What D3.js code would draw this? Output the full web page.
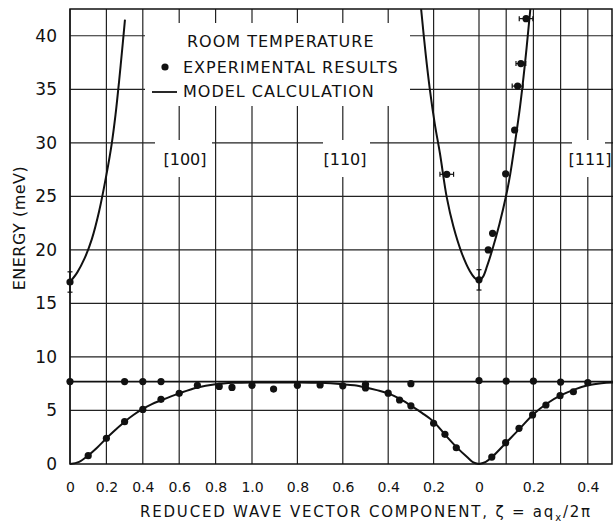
<!DOCTYPE html>
<html>
<head>
<meta charset="utf-8">
<script src="https://cdn.jsdelivr.net/npm/d3@7"></script>
<style>
  body { margin: 0; background: #fff; }
  text { font-family: "DejaVu Sans", sans-serif; fill: #111; }
</style>
</head>
<body>
<svg id="chart" width="613" height="525"></svg>
<script>
// Tick positions on each branch (ζ values)
const ticks100 = [0, 0.2, 0.4, 0.6, 0.8, 1.0];
const ticks110 = [0.8, 0.6, 0.4, 0.2, 0];
const ticks111 = [0.2, 0.4];
const grid111 = [0.1, 0.2, 0.3, 0.4];
const yTicks = [0, 5, 10, 15, 20, 25, 30, 35, 40];

// Model calculation, [ζ, meV]
const acoustic100 = [[0,0],[0.05,0.2],[0.1,0.8],[0.15,1.55],[0.2,2.4],[0.25,3.2],[0.3,3.95],[0.35,4.6],[0.4,5.15],[0.45,5.6],[0.5,5.95],[0.6,6.6],[0.7,7.15],[0.8,7.45],[0.9,7.58],[1.0,7.62]];
const acoustic110 = [[1,7.62],[0.9,7.62],[0.8,7.62],[0.7,7.58],[0.6,7.45],[0.55,7.35],[0.5,7.15],[0.45,6.9],[0.4,6.6],[0.35,6.1],[0.3,5.45],[0.25,4.75],[0.2,3.95],[0.15,2.75],[0.1,1.6],[0.05,0.6],[0.025,0.15],[0,0]];
const acoustic111 = [[0,0],[0.025,0.2],[0.05,0.7],[0.1,2.0],[0.15,3.3],[0.2,4.65],[0.25,5.65],[0.3,6.4],[0.35,6.95],[0.4,7.35],[0.45,7.55],[0.5,7.62]];
const optic100 = [[0,17.0],[0.04,17.9],[0.08,19.2],[0.12,21.0],[0.16,23.6],[0.2,27.0],[0.23,30.0],[0.25,32.6],[0.27,35.8],[0.29,39.3],[0.302,41.5]];
const optic110 = [[0,17.1],[0.02,17.4],[0.04,18.0],[0.076,19.7],[0.113,22.2],[0.142,24.9],[0.172,29.0],[0.195,31.8],[0.216,34.9],[0.235,38.3],[0.255,42.5]];
const optic111 = [[0,17.1],[0.015,17.5],[0.03,18.5],[0.05,20.1],[0.075,22.4],[0.1,25.1],[0.115,27.1],[0.132,29.95],[0.151,33.4],[0.169,37.4],[0.185,41.5],[0.19,42.8]];
const flatLevel = 7.7;

// Experimental results, [ζ, meV, ζ error, meV error]
const flat100 = [[0,7.7],[0.3,7.7],[0.4,7.7],[0.5,7.7]];
const flat110 = [[0.3,7.5],[0,7.8]];
const flat111 = [[0.1,7.75],[0.2,7.75],[0.3,7.65],[0.4,7.6]];
const low100 = [[0.1,0.78],[0.2,2.4],[0.3,3.95],[0.4,5.1],[0.5,6.04],[0.6,6.6],[0.7,7.35],[0.82,7.25],[0.89,7.15],[1.0,7.35]];
const low110 = [[0.905,7.0],[0.8,7.35],[0.7,7.38],[0.6,7.3],[0.5,7.45],[0.5,7.1],[0.4,6.62],[0.35,5.98],[0.3,5.43],[0.2,3.8],[0.15,2.77],[0.1,1.52]];
const low111 = [[0.047,0.65],[0.098,1.99],[0.147,3.33],[0.197,4.58],[0.246,5.51],[0.298,6.38],[0.347,6.75]];
const high100 = [[0,17.0,0,0.95]];
const high110 = [[0,17.2,0,0.95],[0.142,27.06,0.03,0]];
const high111 = [[0.034,20.0],[0.05,21.55],[0.098,27.1],[0.131,31.2],[0.142,35.3,0.02,0],[0.154,37.4,0.018,0],[0.173,41.6,0.025,0]];

const svg = d3.select('#chart');

// one axis made of three branches: [100] 0->1, [110] 1->0, [111] 0->0.5
const x = d3.scaleLinear().domain([0, 1, 2, 2.5]).range([70, 252, 479, 615]);
const y = d3.scaleLinear().domain([0, 42.5]).range([464, 9]);
const along = (b, z) => b === '100' ? z : b === '110' ? 2 - z : 2 + z;
const fmt = (z) => z === 0 ? '0' : z.toFixed(1);

// grid
const gridX = [...ticks100.map((z) => along('100', z)), ...ticks110.map((z) => along('110', z)), ...grid111.map((z) => along('111', z))];
const grid = svg.append('g').attr('stroke', '#222').attr('stroke-width', 1.2);
grid.selectAll('.vg').data(gridX).enter().append('line')
  .attr('x1', (d) => x(d)).attr('x2', (d) => x(d))
  .attr('y1', y(42.5)).attr('y2', y(0));
grid.selectAll('.hg').data(yTicks.slice(1)).enter().append('line')
  .attr('x1', x(0)).attr('x2', 613)
  .attr('y1', (d) => y(d)).attr('y2', (d) => y(d));

// frame
svg.append('rect').attr('x', x(0)).attr('y', y(42.5))
  .attr('width', 612 - x(0)).attr('height', y(0) - y(42.5))
  .attr('fill', 'none').attr('stroke', '#111').attr('stroke-width', 1.5);

// white patches behind legend and branch labels
svg.append('rect').attr('x', 145).attr('y', 23).attr('width', 265).attr('height', 83).attr('fill', '#fff');
const branchLabels = [['[100]', 185, 155, 57], ['[110]', 345, 323, 47], ['[111]', 590, 572, 33]];
branchLabels.forEach(([t, cx, bx, bw]) => {
  svg.append('rect').attr('x', bx).attr('y', 140).attr('width', bw).attr('height', 37).attr('fill', '#fff');
  svg.append('text').attr('x', cx).attr('y', 165).attr('text-anchor', 'middle')
    .style('font-size', '16px').text(t);
});

// axes
const xTickVals = [...ticks100.map((z) => along('100', z)), ...ticks110.map((z) => along('110', z)), ...ticks111.map((z) => along('111', z))];
const xTickText = [...ticks100, ...ticks110, ...ticks111].map(fmt);
const xAxis = d3.axisBottom(x).tickValues(xTickVals).tickSize(0).tickPadding(18)
  .tickFormat((d, i) => xTickText[i]);
svg.append('g').attr('transform', `translate(0,${y(0)})`).call(xAxis)
  .call((g) => g.select('.domain').remove())
  .selectAll('text').style('font-size', '14px').style('font-family', '"DejaVu Sans", sans-serif').attr('fill', '#111');

const yAxis = d3.axisLeft(y).tickValues(yTicks).tickSize(0).tickPadding(13);
svg.append('g').attr('transform', `translate(${x(0)},0)`).call(yAxis)
  .call((g) => g.select('.domain').remove())
  .selectAll('text').style('font-size', '17px').style('font-family', '"DejaVu Sans", sans-serif').attr('fill', '#111');

// axis titles
const xt = svg.append('text').attr('x', 140).attr('y', 517).style('font-size', '15px').style('letter-spacing', '1.8px');
xt.append('tspan').text('REDUCED WAVE VECTOR COMPONENT,  ζ = aq');
xt.append('tspan').attr('dy', 4).style('font-size', '10px').text('x');
xt.append('tspan').attr('dy', -4).text('/2π');

svg.append('text').attr('transform', 'translate(25,228) rotate(-90)')
  .attr('text-anchor', 'middle').style('font-size', '16px').style('letter-spacing', '0.5px').text('ENERGY  (meV)');

// model curves
svg.append('clipPath').attr('id', 'clip').append('rect')
  .attr('x', 60).attr('y', y(42.5)).attr('width', 560).attr('height', y(0) - y(42.5) + 2);
const plot = svg.append('g').attr('clip-path', 'url(#clip)');

const line = (b) => d3.line().curve(d3.curveCatmullRom.alpha(0.5))
  .x((d) => x(along(b, d[0]))).y((d) => y(d[1]));
const curves = [['100', acoustic100], ['110', acoustic110], ['111', acoustic111],
  ['100', optic100], ['110', optic110], ['111', optic111]];
curves.forEach(([b, data]) => {
  plot.append('path').datum(data).attr('d', line(b))
    .attr('fill', 'none').attr('stroke', '#111').attr('stroke-width', 2);
});
plot.append('line').attr('x1', x(0)).attr('x2', x(2.5))
  .attr('y1', y(flatLevel)).attr('y2', y(flatLevel))
  .attr('stroke', '#111').attr('stroke-width', 1.8);

// experimental results
const sets = [['100', flat100], ['110', flat110], ['111', flat111],
  ['100', low100], ['110', low110], ['111', low111],
  ['100', high100], ['110', high110], ['111', high111]];
sets.forEach(([b, data]) => {
  const g = plot.append('g');
  data.forEach((d) => {
    const cx = x(along(b, d[0]));
    const cy = y(d[1]);
    if (d[2]) {
      const x0 = x(along(b, d[0] - d[2]));
      const x1 = x(along(b, d[0] + d[2]));
      g.append('line').attr('x1', x0).attr('x2', x1).attr('y1', cy).attr('y2', cy).attr('stroke', '#111').attr('stroke-width', 1.2);
      [x0, x1].forEach((xx) => g.append('line').attr('x1', xx).attr('x2', xx).attr('y1', cy - 2.5).attr('y2', cy + 2.5).attr('stroke', '#111').attr('stroke-width', 1.2));
    }
    if (d[3]) {
      const y0 = y(d[1] - d[3]);
      const y1 = y(d[1] + d[3]);
      g.append('line').attr('x1', cx).attr('x2', cx).attr('y1', y0).attr('y2', y1).attr('stroke', '#111').attr('stroke-width', 1.2);
      [y0, y1].forEach((yy) => g.append('line').attr('x1', cx - 2.5).attr('x2', cx + 2.5).attr('y1', yy).attr('y2', yy).attr('stroke', '#111').attr('stroke-width', 1.2));
    }
    g.append('circle').attr('cx', cx).attr('cy', cy).attr('r', 3.6).attr('fill', '#111');
  });
});

// legend
const legendText = (tx, ty, t) => svg.append('text').attr('x', tx).attr('y', ty)
  .style('font-size', '16px').style('letter-spacing', '1px').text(t);
legendText(187, 47, 'ROOM TEMPERATURE');
svg.append('circle').attr('cx', 165).attr('cy', 67).attr('r', 3.6).attr('fill', '#111');
legendText(183, 73, 'EXPERIMENTAL RESULTS');
svg.append('line').attr('x1', 152).attr('x2', 177).attr('y1', 92).attr('y2', 92).attr('stroke', '#111').attr('stroke-width', 1.8);
legendText(183, 97, 'MODEL CALCULATION');
</script>
</body>
</html>
